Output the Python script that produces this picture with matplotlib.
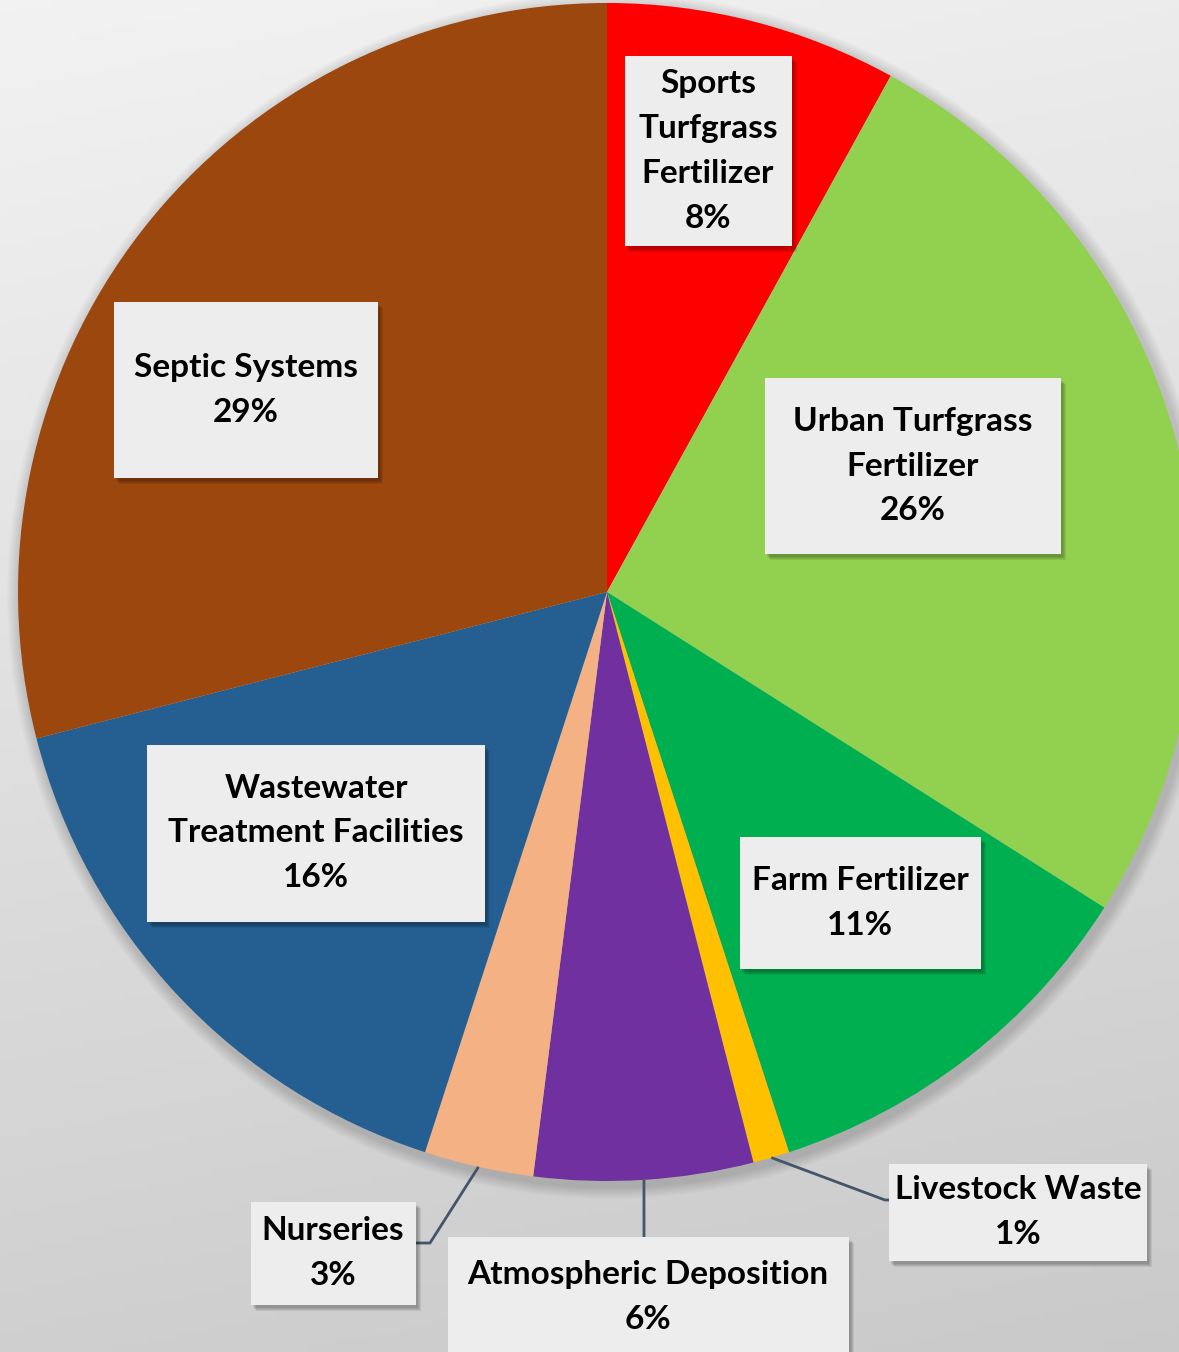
import numpy as np
import matplotlib.pyplot as plt
from matplotlib.patches import Rectangle, Circle

plt.rcParams['font.family'] = ['Lato', 'DejaVu Sans']

# data
sources = ['Sports\nTurfgrass\nFertilizer', 'Urban Turfgrass\nFertilizer', 'Farm Fertilizer',
           'Livestock Waste', 'Atmospheric Deposition', 'Nurseries',
           'Wastewater\nTreatment Facilities', 'Septic Systems']
shares = [8, 26, 11, 1, 6, 3, 16, 29]
colors = ['#FF0000', '#92D050', '#00B050', '#FFC000', '#7030A0', '#F4B183',
          '#255E91', '#9C470E']

W, H = 1179, 1352
CX, CY, R = 607, 592, 589

# label boxes in pixel coords: (centre x, centre y, width, height)
boxes = [(708, 151, 167, 190), (913, 466, 296, 176), (860, 903, 241, 132),
         (1018, 1212, 258, 97), (648, 1297, 401, 120), (333, 1253, 165, 103),
         (316, 833, 338, 177), (246, 390, 264, 176)]
leaders = {3: [(885, 1200), (889, 1200)],
           4: [(644, 1237)],
           5: [(430, 1243), (415, 1243)]}


def py(y):
    return H - y


fig = plt.figure(figsize=(W / 100, H / 100), dpi=100)
ax = fig.add_axes([0, 0, 1, 1])
ax.set_xlim(0, W)
ax.set_ylim(0, H)
ax.set_aspect('equal')
ax.axis('off')

# background gradient
yy, xx = np.mgrid[0:1:200j, 0:1:200j]
grad = 0.95 - 0.16 * (0.85 * yy + 0.15 * xx)
ax.imshow(np.dstack([grad, grad, grad]), extent=(0, W, 0, H), origin='upper',
          zorder=0, aspect='auto')

# soft pie shadow
for i in range(12):
    ax.add_patch(Circle((CX + 3, py(CY) - 4), R + 14 - i, color='black',
                        alpha=0.012, lw=0, zorder=1))

ax.pie(shares, colors=colors, startangle=90, counterclock=False, radius=R,
       center=(CX, py(CY)), frame=True,
       wedgeprops=dict(linewidth=0, zorder=2))
ax.set_xlim(0, W)
ax.set_ylim(0, H)
ax.axis('off')

# leader lines from wedge mid angles
cum = np.cumsum([0] + shares)
for i, pts in leaders.items():
    mid = (cum[i] + shares[i] / 2) / 100 * 2 * np.pi
    x0 = CX + R * np.sin(mid)
    y0 = CY - R * np.cos(mid)
    xs = [x0] + [p[0] for p in pts]
    ys = [py(y0)] + [py(p[1]) for p in pts]
    ax.plot(xs, ys, color='#44546A', lw=2, zorder=3, solid_capstyle='butt')

for i, (name, val) in enumerate(zip(sources, shares)):
    bx, by, bw, bh = boxes[i]
    for k in range(4):
        ax.add_patch(Rectangle((bx - bw / 2 + 2 + k, py(by) - bh / 2 - 3 - k), bw, bh,
                               color='black', alpha=0.08, lw=0, zorder=4))
    ax.add_patch(Rectangle((bx - bw / 2, py(by) - bh / 2), bw, bh,
                           facecolor='#EDEDED', edgecolor='none', zorder=5))
    ax.text(bx, py(by), f'{name}\n{val}%', ha='center', va='center',
            fontsize=24, fontweight='bold', color='black', linespacing=1.66,
            zorder=6)

fig.savefig('out.png', dpi=100)
